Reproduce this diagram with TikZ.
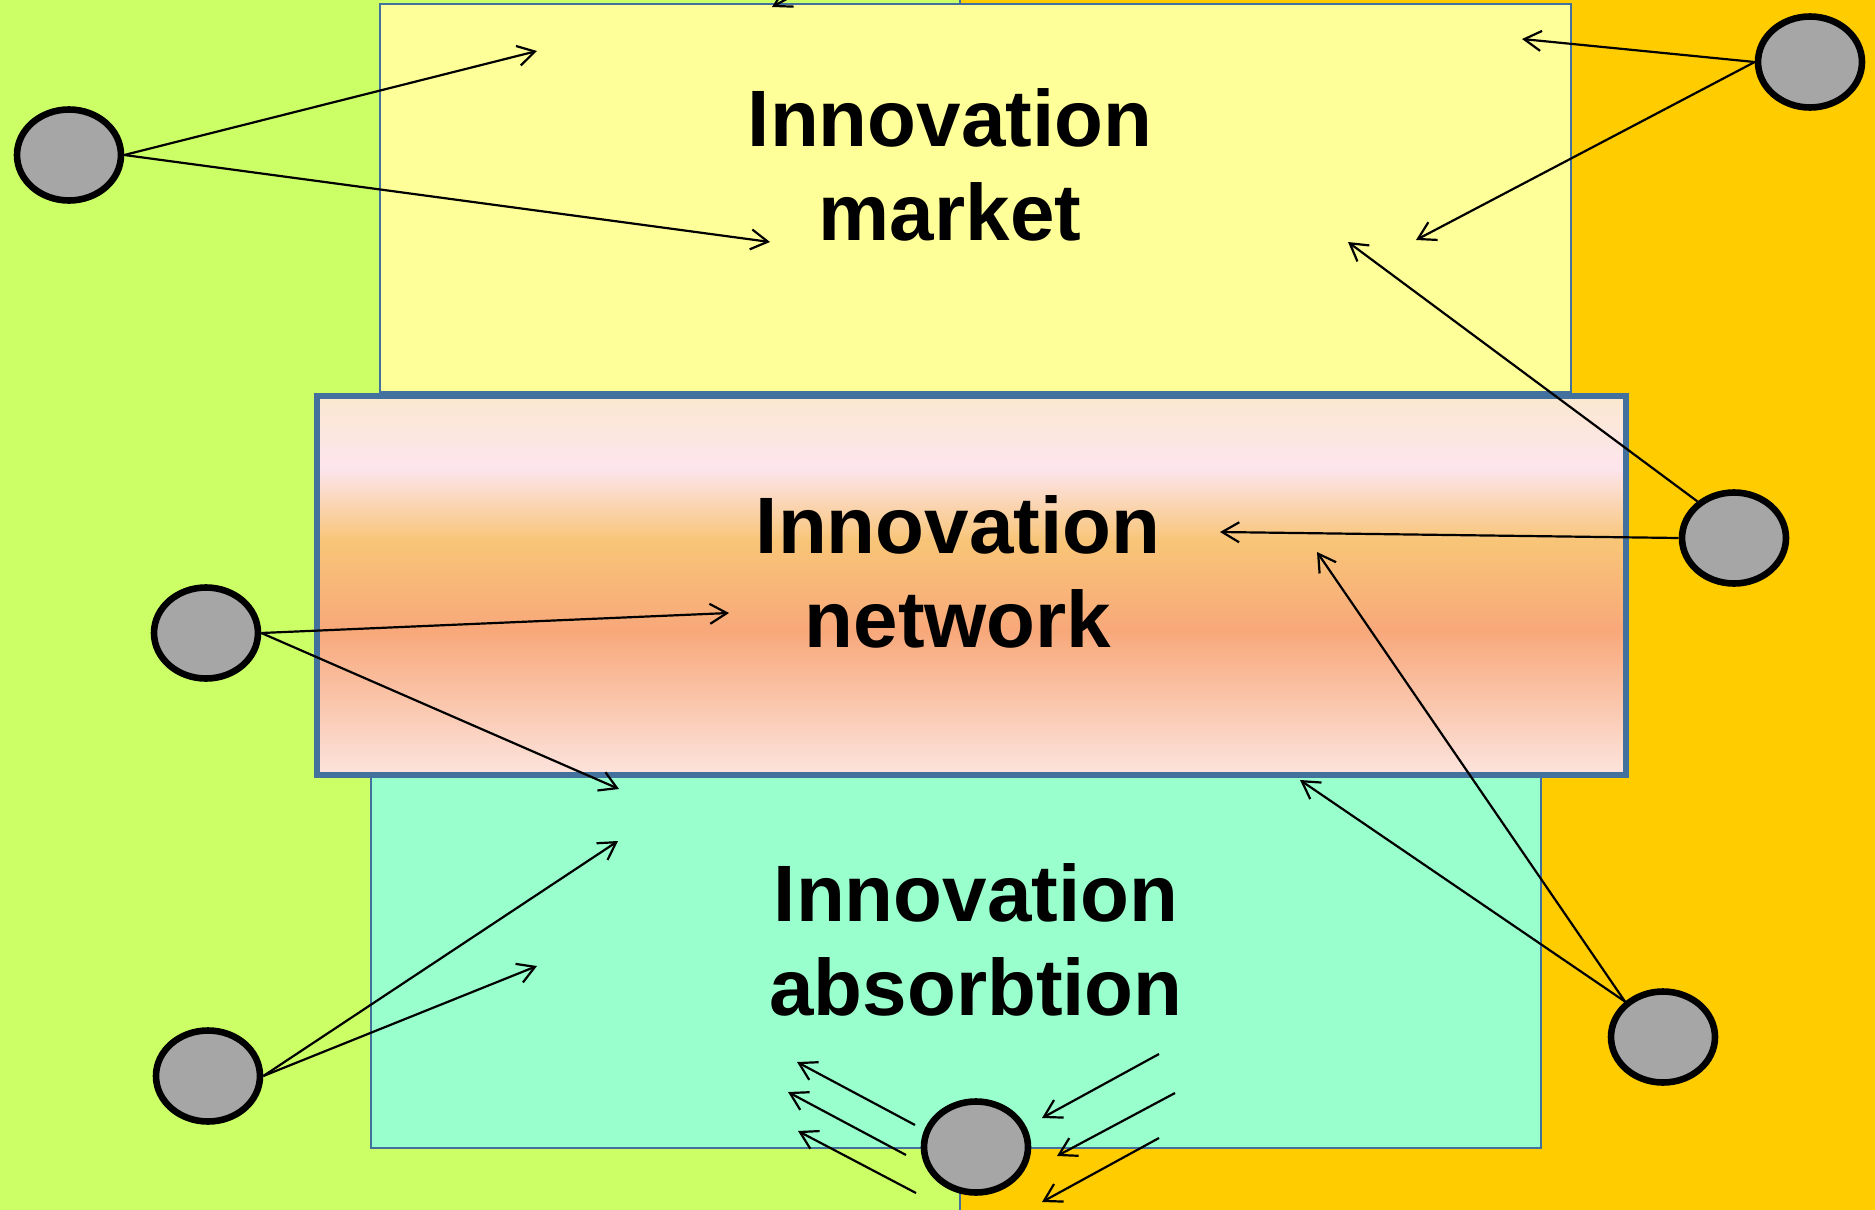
\documentclass[tikz,border=0pt]{standalone}
\usepackage{fontspec}
\setmainfont{Liberation Sans}
\usetikzlibrary{shapes.geometric,arrows.meta}
\definecolor{bggreen}{HTML}{CCFF66}
\definecolor{bgorange}{HTML}{FFCC00}
\definecolor{mktyellow}{HTML}{FFFF99}
\definecolor{absgreen}{HTML}{99FFCC}
\definecolor{boxblue}{HTML}{41719C}
\definecolor{actgray}{HTML}{A6A6A6}
\definecolor{nT}{HTML}{FBE8CF}
\definecolor{nP}{HTML}{FDE5EE}
\definecolor{nY}{HTML}{F8C577}
\definecolor{nS}{HTML}{F8A87A}
\definecolor{nB}{HTML}{FCE4DE}
\pgfdeclareverticalshading{netshade}{100bp}{color(0bp)=(nB); color(25bp)=(nB); color(44.1bp)=(nS); color(55.9bp)=(nY); color(65.5bp)=(nP); color(75bp)=(nT); color(100bp)=(nT)}
\tikzset{
  actor/.style={ellipse, draw=black, line width=3.3pt, fill=actgray, minimum width=52pt, minimum height=45.5pt, inner sep=0pt},
  flow/.style={line width=1.1pt, -{Straight Barb[length=8.5pt,width=10pt]}},
  thinbox/.style={draw=boxblue, line width=0.8pt},
  title/.style={font=\fontsize{40}{47}\selectfont\bfseries, align=center, inner sep=0pt}
}
\begin{document}
\begin{tikzpicture}[x=0.5pt,y=-0.5pt]
\useasboundingbox (0,0) rectangle (1875,1210);
\clip (0,0) rectangle (1875,1210);
% backgrounds
\fill[bggreen] (0,0) rectangle (960,1210);
\fill[bgorange] (960,0) rectangle (1875,1210);
\draw[thinbox] (960,0) -- (960,1210);
% boxes
\draw[thinbox, fill=mktyellow] (380,4) rectangle (1571,392);
\draw[thinbox, fill=absgreen] (371,774) rectangle (1541,1148);
\draw[draw=boxblue, line width=3pt, shade, shading=netshade] (317,396) rectangle (1626,775);
% texts
\node[title] (market) at (950,165) {Innovation\\market};
\node[title] (network) at (958,572) {Innovation\\network};
\node[title] (absorb) at (976,940) {Innovation\\absorbtion};
% actors
\node[actor] (e1) at (69,155) {};
\node[actor] (e2) at (1810,62) {};
\node[actor] (e3) at (206,633) {};
\node[actor] (e4) at (1734,538) {};
\node[actor] (e5) at (208,1076) {};
\node[actor] (e6) at (1663,1037) {};
\node[actor] (e7) at (976,1147) {};
% target coordinates
\coordinate (t1a) at (537,51);
\coordinate (t1b) at (770,242);
\coordinate (t2a) at (1522,39);
\coordinate (t2b) at (1416,240);
\coordinate (t3a) at (729,613);
\coordinate (t3b) at (619,789);
\coordinate (t4a) at (1220,532);
\coordinate (t4b) at (1348,242);
\coordinate (t5a) at (618,841);
\coordinate (t5b) at (537,966);
\coordinate (t6a) at (1300,780);
\coordinate (t6b) at (1317,552);
\coordinate (top0) at (840,-30);
\coordinate (top1) at (772,7);
\coordinate (l1s) at (915,1125); \coordinate (l1e) at (797,1062);
\coordinate (l2s) at (906,1155); \coordinate (l2e) at (788,1092);
\coordinate (l3s) at (916,1193); \coordinate (l3e) at (798,1131);
\coordinate (r1s) at (1159,1054); \coordinate (r1e) at (1042,1118);
\coordinate (r2s) at (1175,1093); \coordinate (r2e) at (1057,1156);
\coordinate (r3s) at (1159,1138); \coordinate (r3e) at (1042,1202);
% arrows
\draw[flow] (e1.east) -- (t1a);
\draw[flow] (e1.east) -- (t1b);
\draw[flow] (e2.west) -- (t2a);
\draw[flow] (e2.west) -- (t2b);
\draw[flow] (e3.east) -- (t3a);
\draw[flow] (e3.east) -- (t3b);
\draw[flow] (e4.west) -- (t4a);
\draw[flow] (e4.135) -- (t4b);
\draw[flow] (e5.east) -- (t5a);
\draw[flow] (e5.east) -- (t5b);
\draw[flow] (e6.137) -- (t6a);
\draw[flow] (e6.137) -- (t6b);
\draw[flow] (top0) -- (top1);
\draw[flow] (l1s) -- (l1e);
\draw[flow] (l2s) -- (l2e);
\draw[flow] (l3s) -- (l3e);
\draw[flow] (r1s) -- (r1e);
\draw[flow] (r2s) -- (r2e);
\draw[flow] (r3s) -- (r3e);
\end{tikzpicture}
\end{document}
